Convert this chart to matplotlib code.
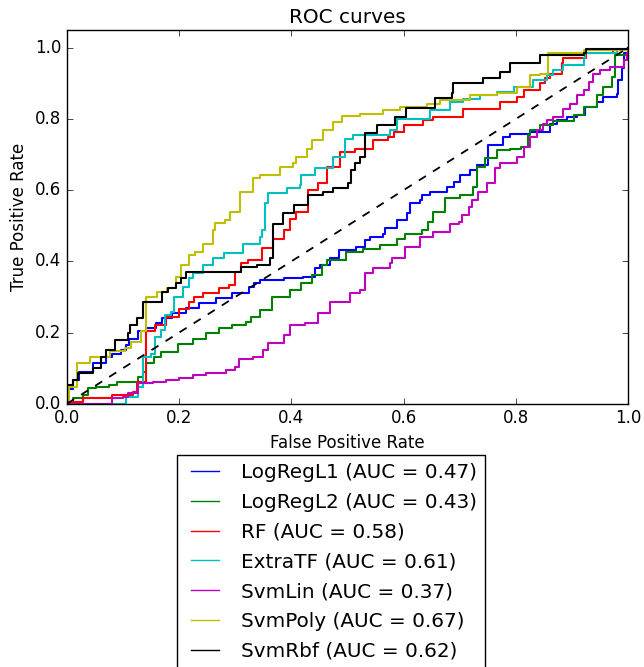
import matplotlib
matplotlib.use("Agg")
import matplotlib.pyplot as plt

# ROC curve vertices (fpr, tpr), drawn as steps
names = ["LogRegL1", "LogRegL2", "RF", "ExtraTF", "SvmLin", "SvmPoly", "SvmRbf"]
aucs = [0.47, 0.43, 0.58, 0.61, 0.37, 0.67, 0.62]
colors = ["b", "g", "r", "c", "m", "y", "k"]

fpr_l1 = [0.0, 0.01, 0.022, 0.046, 0.07, 0.081, 0.096, 0.105, 0.111, 0.126, 0.141, 0.159, 0.17,
          0.188, 0.212, 0.236, 0.266, 0.295, 0.325, 0.334, 0.344, 0.386, 0.421, 0.442, 0.451,
          0.469, 0.484, 0.516, 0.531, 0.54, 0.564, 0.567, 0.588, 0.606, 0.612, 0.629, 0.632,
          0.647, 0.677, 0.689, 0.7, 0.718, 0.73, 0.751, 0.778, 0.79, 0.825, 0.861, 0.873,
          0.891, 0.909, 0.924, 0.944, 0.956, 0.98, 0.983, 0.989, 0.992, 1.0]
tpr_l1 = [0.04, 0.066, 0.09, 0.113, 0.132, 0.141, 0.15, 0.165, 0.183, 0.203, 0.212, 0.226, 0.24,
          0.254, 0.268, 0.282, 0.296, 0.31, 0.329, 0.338, 0.347, 0.352, 0.357, 0.38, 0.389,
          0.408, 0.432, 0.44, 0.46, 0.469, 0.478, 0.493, 0.516, 0.535, 0.563, 0.572, 0.586,
          0.595, 0.609, 0.623, 0.642, 0.656, 0.67, 0.726, 0.75, 0.759, 0.764, 0.787, 0.797,
          0.806, 0.811, 0.834, 0.848, 0.862, 0.871, 0.909, 0.942, 0.984, 1.0]

fpr_l2 = [0.0, 0.01, 0.028, 0.037, 0.052, 0.075, 0.09, 0.126, 0.136, 0.141, 0.155, 0.168, 0.197,
          0.224, 0.248, 0.271, 0.295, 0.319, 0.328, 0.344, 0.365, 0.398, 0.418, 0.436, 0.454,
          0.463, 0.498, 0.528, 0.558, 0.588, 0.603, 0.632, 0.644, 0.653, 0.674, 0.7, 0.724,
          0.73, 0.745, 0.766, 0.79, 0.81, 0.822, 0.825, 0.843, 0.867, 0.903, 0.921, 0.944,
          0.956, 0.971, 0.977, 1.0]
tpr_l2 = [0.0, 0.015, 0.024, 0.043, 0.048, 0.052, 0.062, 0.076, 0.09, 0.113, 0.13, 0.146, 0.169,
          0.183, 0.198, 0.212, 0.221, 0.23, 0.245, 0.263, 0.301, 0.319, 0.338, 0.362, 0.389,
          0.403, 0.427, 0.436, 0.446, 0.464, 0.478, 0.488, 0.511, 0.539, 0.577, 0.586, 0.609,
          0.665, 0.689, 0.712, 0.717, 0.722, 0.755, 0.769, 0.783, 0.795, 0.811, 0.834, 0.867,
          0.89, 0.918, 0.979, 1.0]

fpr_rf = [0.0, 0.028, 0.081, 0.117, 0.125, 0.141, 0.156, 0.177, 0.2, 0.218, 0.227, 0.242, 0.271,
          0.289, 0.3, 0.311, 0.322, 0.347, 0.368, 0.386, 0.398, 0.409, 0.43, 0.448, 0.463,
          0.487, 0.514, 0.546, 0.573, 0.582, 0.6, 0.635, 0.653, 0.706, 0.772, 0.802, 0.814,
          0.843, 0.852, 0.861, 0.882, 0.885, 0.926, 0.974, 1.0]
tpr_rf = [0.005, 0.015, 0.024, 0.033, 0.06, 0.203, 0.221, 0.244, 0.265, 0.286, 0.3, 0.31, 0.324,
          0.333, 0.37, 0.394, 0.404, 0.437, 0.464, 0.488, 0.52, 0.54, 0.6, 0.619, 0.666,
          0.708, 0.716, 0.74, 0.75, 0.764, 0.783, 0.797, 0.806, 0.829, 0.848, 0.862, 0.881,
          0.9, 0.914, 0.927, 0.956, 0.97, 0.984, 0.993, 1.0]

fpr_et = [0.0, 0.105, 0.126, 0.135, 0.15, 0.156, 0.168, 0.174, 0.185, 0.191, 0.206, 0.218, 0.224,
          0.242, 0.26, 0.279, 0.314, 0.344, 0.347, 0.353, 0.359, 0.392, 0.415, 0.418, 0.442,
          0.475, 0.495, 0.51, 0.576, 0.588, 0.647, 0.683, 0.706, 0.736, 0.766, 0.796, 0.831,
          0.855, 0.867, 0.885, 0.921, 0.924, 0.98, 1.0]
tpr_et = [0.0, 0.02, 0.048, 0.132, 0.141, 0.188, 0.207, 0.249, 0.259, 0.3, 0.329, 0.352, 0.366,
          0.39, 0.408, 0.423, 0.45, 0.469, 0.488, 0.563, 0.591, 0.605, 0.614, 0.642, 0.661,
          0.694, 0.745, 0.755, 0.768, 0.801, 0.825, 0.848, 0.857, 0.867, 0.876, 0.89, 0.909,
          0.923, 0.937, 0.951, 0.97, 0.984, 0.998, 1.0]

fpr_lin = [0.0, 0.081, 0.099, 0.108, 0.126, 0.153, 0.176, 0.2, 0.224, 0.248, 0.283, 0.3, 0.307,
           0.331, 0.35, 0.359, 0.386, 0.398, 0.424, 0.448, 0.469, 0.505, 0.522, 0.531, 0.546,
           0.576, 0.579, 0.603, 0.629, 0.653, 0.683, 0.698, 0.704, 0.716, 0.722, 0.733, 0.748,
           0.763, 0.772, 0.802, 0.814, 0.825, 0.837, 0.849, 0.855, 0.867, 0.885, 0.897, 0.909,
           0.921, 0.93, 0.938, 0.95, 0.968, 0.992, 0.998, 1.0]
tpr_lin = [0.0, 0.015, 0.02, 0.029, 0.057, 0.062, 0.066, 0.071, 0.08, 0.085, 0.094, 0.104, 0.127,
           0.132, 0.151, 0.17, 0.193, 0.221, 0.226, 0.254, 0.287, 0.31, 0.319, 0.366, 0.38,
           0.394, 0.408, 0.441, 0.469, 0.483, 0.506, 0.511, 0.53, 0.554, 0.572, 0.595, 0.619,
           0.661, 0.675, 0.694, 0.722, 0.75, 0.769, 0.787, 0.797, 0.806, 0.829, 0.843, 0.867,
           0.881, 0.904, 0.927, 0.937, 0.946, 0.965, 0.984, 1.0]

fpr_poly = [0.0, 0.003, 0.017, 0.041, 0.077, 0.103, 0.114, 0.132, 0.141, 0.16, 0.178, 0.194,
            0.203, 0.218, 0.228, 0.243, 0.261, 0.264, 0.282, 0.29, 0.308, 0.332, 0.344, 0.38,
            0.403, 0.409, 0.427, 0.436, 0.457, 0.475, 0.49, 0.522, 0.564, 0.594, 0.641, 0.665,
            0.718, 0.766, 0.802, 0.826, 0.843, 0.858, 0.858, 0.921, 1.0]
tpr_poly = [0.01, 0.048, 0.113, 0.132, 0.147, 0.156, 0.174, 0.203, 0.3, 0.314, 0.324, 0.357,
            0.39, 0.418, 0.427, 0.45, 0.488, 0.507, 0.515, 0.54, 0.595, 0.633, 0.642, 0.666,
            0.675, 0.694, 0.717, 0.741, 0.769, 0.792, 0.808, 0.814, 0.825, 0.834, 0.843, 0.853,
            0.867, 0.872, 0.89, 0.923, 0.927, 0.932, 0.984, 0.993, 1.0]

fpr_rbf = [0.0, 0.01, 0.02, 0.046, 0.06, 0.07, 0.085, 0.108, 0.113, 0.125, 0.135, 0.17, 0.18,
           0.194, 0.203, 0.212, 0.31, 0.338, 0.362, 0.368, 0.385, 0.404, 0.43, 0.457, 0.475,
           0.5, 0.507, 0.513, 0.522, 0.531, 0.552, 0.584, 0.605, 0.656, 0.686, 0.688, 0.718,
           0.742, 0.772, 0.79, 0.843, 0.921, 0.926, 1.0]
tpr_rbf = [0.052, 0.066, 0.087, 0.099, 0.13, 0.15, 0.18, 0.198, 0.22, 0.24, 0.286, 0.314, 0.324,
           0.338, 0.352, 0.37, 0.385, 0.39, 0.41, 0.506, 0.535, 0.558, 0.586, 0.596, 0.605,
           0.619, 0.656, 0.675, 0.694, 0.76, 0.783, 0.806, 0.83, 0.858, 0.872, 0.9, 0.9,
           0.914, 0.932, 0.956, 0.979, 0.984, 0.998, 1.0]

curves = [(fpr_l1, tpr_l1), (fpr_l2, tpr_l2), (fpr_rf, tpr_rf), (fpr_et, tpr_et),
          (fpr_lin, tpr_lin), (fpr_poly, tpr_poly), (fpr_rbf, tpr_rbf)]

plt.style.use("classic")
fig = plt.figure(figsize=(6.44, 6.67), dpi=100)
ax = fig.add_axes([67 / 644, 1 - 403.7 / 667, 561 / 644, 373.7 / 667])

handles = []
for (fpr, tpr), name, auc, c in zip(curves, names, aucs, colors):
    h, = ax.plot(fpr, tpr, color=c, lw=1.5, drawstyle="steps-post",
                 label="%s (AUC = %0.2f)" % (name, auc))
    handles.append(h)

ax.plot([0, 1], [0, 1], "k--", lw=1.3)
ax.set_xlim(0.0, 1.0)
ax.set_ylim(0.0, 1.05)
ax.set_xlabel("False Positive Rate")
ax.set_ylabel("True Positive Rate")
ax.set_title("ROC curves")

leg = fig.legend(handles=handles, loc="upper left",
                 bbox_to_anchor=(167 / 644, 1 - 445 / 667), fontsize=14.4,
                 labelspacing=0.54)
for line in leg.get_lines():
    line.set_linewidth(1.0)

fig.savefig("out.png", dpi=100)
